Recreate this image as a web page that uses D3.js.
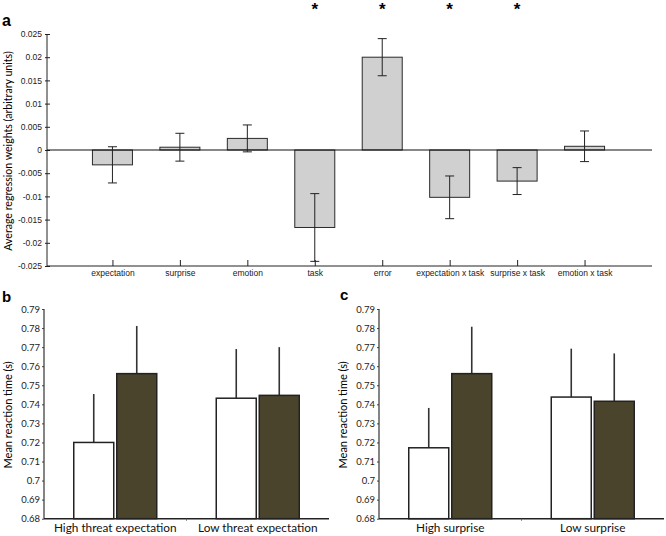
<!DOCTYPE html>
<html>
<head>
<meta charset="utf-8">
<script src="https://cdn.jsdelivr.net/npm/d3@7"></script>
<style>
  body { margin: 0; background: #fff; }
  svg { display: block; }
  .tickA { font-family: "Liberation Sans", Arial, sans-serif; font-size: 8.5px; fill: #222; }
  .tickB { font-family: Lato, "Open Sans", sans-serif; font-size: 9.5px; fill: #222; }
</style>
</head>
<body>
<div id="chart"></div>
<script>
// ---- panel a: regression weights
var regLabels = ["expectation", "surprise", "emotion", "task", "error",
                 "expectation x task", "surprise x task", "emotion x task"];
var regMeans = [-0.0032, 0.0006, 0.0025, -0.0167, 0.0200, -0.0102, -0.0067, 0.0008];
var regErr   = [ 0.0039, 0.0030, 0.0029,  0.0073, 0.0040,  0.0046,  0.0029, 0.0033];
var regSig   = [false, false, false, true, true, true, true, false];
var regTicks = [0.025, 0.02, 0.015, 0.01, 0.005, 0, -0.005, -0.01, -0.015, -0.02, -0.025];

// ---- panels b and c: mean reaction time
var groupsB = ["High threat expectation", "Low threat expectation"];
var lightB = [0.7200, 0.7432], lightErrB = [0.0254, 0.0258];
var darkB  = [0.7561, 0.7447], darkErrB  = [0.0250, 0.0253];

var groupsC = ["High surprise", "Low surprise"];
var lightC = [0.7172, 0.7438], lightErrC = [0.0209, 0.0254];
var darkC  = [0.7561, 0.7416], darkErrC  = [0.0246, 0.0251];

var rtTicks = [0.68, 0.69, 0.70, 0.71, 0.72, 0.73, 0.74, 0.75, 0.76, 0.77, 0.78, 0.79];

var W = 666, H = 536;
var svg = d3.select("#chart").append("svg").attr("width", W).attr("height", H);

function fmt(d, n) { return String(+d.toFixed(n)); }

// ================= panel a =================
(function() {
  var left = 47, right = 652, top = 34, bottom = 266;
  var x = d3.scaleLinear().domain([0, 9]).range([left - 2, right]);
  var y = d3.scaleLinear().domain([-0.025, 0.025]).range([bottom, top]);
  var g = svg.append("g");

  g.append("text").attr("x", 2).attr("y", 26)
    .style("font-family", "Liberation Sans, Arial, sans-serif")
    .style("font-size", "16px").style("font-weight", "bold").text("a");

  // y axis
  var yAx = g.append("g").attr("transform", "translate(" + left + ",0)")
    .call(d3.axisLeft(y).tickValues(regTicks).tickSize(-3).tickPadding(5)
      .tickFormat(function(d) { return fmt(d, 3); }));
  yAx.select(".domain").remove();
  yAx.selectAll("line").attr("stroke", "#222").attr("x1", -2);
  yAx.selectAll("text").attr("class", "tickA");
  g.append("line").attr("x1", left).attr("x2", left).attr("y1", top).attr("y2", bottom)
    .attr("stroke", "#222");

  // x axis at the bottom
  var xAx = g.append("g").attr("transform", "translate(0," + bottom + ")")
    .call(d3.axisBottom(x).tickValues(d3.range(1, 9)).tickSize(-6).tickPadding(4)
      .tickFormat(function(d) { return regLabels[d - 1]; }));
  xAx.select(".domain").remove();
  xAx.selectAll("line").attr("stroke", "#222");
  xAx.selectAll("text").attr("class", "tickA").attr("dy", "0.75em").attr("y", 4);
  g.append("line").attr("x1", left).attr("x2", right).attr("y1", bottom).attr("y2", bottom)
    .attr("stroke", "#222");

  g.append("text")
    .attr("transform", "translate(12," + ((top + bottom) / 2 + 1) + ") rotate(-90)")
    .attr("text-anchor", "middle")
    .style("font-family", "Lato, 'Open Sans', sans-serif").style("font-size", "10.6px")
    .text("Average regression weights (arbitrary units)");

  var bw = 40;
  g.selectAll("rect.bar").data(regMeans).enter().append("rect")
    .attr("class", "bar")
    .attr("x", function(d, i) { return x(i + 1) - bw / 2; })
    .attr("width", bw)
    .attr("y", function(d) { return y(Math.max(0, d)); })
    .attr("height", function(d) { return Math.abs(y(d) - y(0)); })
    .attr("fill", "#d0d0d0").attr("stroke", "#2a2a2a").attr("stroke-width", 1);

  // zero line
  g.append("line").attr("x1", left).attr("x2", right).attr("y1", y(0)).attr("y2", y(0))
    .attr("stroke", "#111").attr("stroke-width", 1.2);

  // error bars
  var eb = g.selectAll("g.eb").data(regMeans).enter().append("g").attr("class", "eb")
    .attr("stroke", "#222").attr("stroke-width", 1);
  eb.append("line")
    .attr("x1", function(d, i) { return x(i + 1); }).attr("x2", function(d, i) { return x(i + 1); })
    .attr("y1", function(d, i) { return y(d + regErr[i]); })
    .attr("y2", function(d, i) { return y(d - regErr[i]); });
  [1, -1].forEach(function(s) {
    eb.append("line")
      .attr("x1", function(d, i) { return x(i + 1) - 4.5; })
      .attr("x2", function(d, i) { return x(i + 1) + 4.5; })
      .attr("y1", function(d, i) { return y(d + s * regErr[i]); })
      .attr("y2", function(d, i) { return y(d + s * regErr[i]); });
  });

  // significance stars
  g.selectAll("text.star").data(regSig).enter().filter(function(d) { return d; })
    .append("text").attr("class", "star")
    .attr("x", function(d, i) { return x(regSig.indexOf(true) + i + 1); })
    .attr("y", 15).attr("text-anchor", "middle")
    .style("font-family", "Liberation Sans, Arial, sans-serif")
    .style("font-size", "17px").style("font-weight", "bold").text("*");
})();

// ================= panels b, c =================
function plotRT(letter, lx, ly, left, groups, light, lightErr, dark, darkErr) {
  var right = left + 285, top = 309, bottom = 518.7;
  var g = svg.append("g");
  var x = d3.scaleBand().domain(groups).range([left, right]);
  var xSub = d3.scaleBand().domain(["light", "dark"]).range([-41.5, 41.5]).paddingInner(0.07);
  var y = d3.scaleLinear().domain([0.68, 0.79]).range([bottom, top]);

  g.append("text").attr("x", lx).attr("y", ly)
    .style("font-family", "Liberation Sans, Arial, sans-serif")
    .style("font-size", "15px").style("font-weight", "bold").text(letter);

  var yAx = g.append("g").attr("transform", "translate(" + left + ",0)")
    .call(d3.axisLeft(y).tickValues(rtTicks).tickSize(2).tickPadding(2)
      .tickFormat(function(d) { return fmt(d, 2); }));
  yAx.select(".domain").remove();
  yAx.selectAll("line").attr("stroke", "#444");
  yAx.selectAll("text").attr("class", "tickB");
  g.append("line").attr("x1", left).attr("x2", left).attr("y1", top).attr("y2", bottom)
    .attr("stroke", "#333").attr("stroke-width", 1.2);

  g.append("text")
    .attr("transform", "translate(" + (left - 32) + "," + ((top + bottom) / 2 + 1) + ") rotate(-90)")
    .attr("text-anchor", "middle")
    .style("font-family", "Lato, 'Open Sans', sans-serif").style("font-size", "11px")
    .text("Mean reaction time (s)");

  var series = [
    { key: "light", vals: light, err: lightErr, fill: "#ffffff" },
    { key: "dark", vals: dark, err: darkErr, fill: "#4a442c" }
  ];
  series.forEach(function(s) {
    var cx = function(d, i) { return x(groups[i]) + x.bandwidth() / 2 + xSub(s.key) + xSub.bandwidth() / 2; };
    // error line above the bar
    g.selectAll(null).data(s.vals).enter().append("line")
      .attr("x1", cx).attr("x2", cx)
      .attr("y1", function(d) { return y(d); })
      .attr("y2", function(d, i) { return y(d + s.err[i]); })
      .attr("stroke", "#333").attr("stroke-width", 1.6);
    g.selectAll(null).data(s.vals).enter().append("rect")
      .attr("x", function(d, i) { return x(groups[i]) + x.bandwidth() / 2 + xSub(s.key); })
      .attr("width", xSub.bandwidth())
      .attr("y", function(d) { return y(d); })
      .attr("height", function(d) { return y(0.68) - y(d); })
      .attr("fill", s.fill).attr("stroke", "#222").attr("stroke-width", 1.5);
  });

  // x axis
  g.append("line").attr("x1", left).attr("x2", right).attr("y1", bottom).attr("y2", bottom)
    .attr("stroke", "#222").attr("stroke-width", 1.4);
  g.append("line").attr("x1", x(groups[1])).attr("x2", x(groups[1]))
    .attr("y1", bottom).attr("y2", bottom + 2).attr("stroke", "#666");
  g.selectAll(null).data(groups).enter().append("text")
    .attr("x", function(d) { return x(d) + x.bandwidth() / 2; })
    .attr("y", 531.5).attr("text-anchor", "middle")
    .style("font-family", "Lato, 'Open Sans', sans-serif").style("font-size", "11.8px")
    .style("fill", "#111")
    .text(function(d) { return d; });
}

plotRT("b", 2, 302, 44, groupsB, lightB, lightErrB, darkB, darkErrB);
plotRT("c", 340, 299.5, 379, groupsC, lightC, lightErrC, darkC, darkErrC);
</script>
</body>
</html>
